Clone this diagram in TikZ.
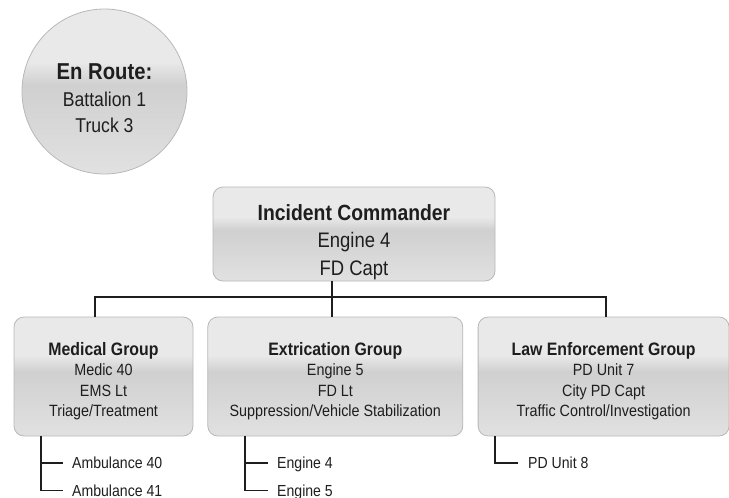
\documentclass[tikz,border=0pt]{standalone}
\usepackage{fontspec}
\setmainfont[FakeStretch=0.88]{Liberation Sans}
\usetikzlibrary{positioning, calc}
\definecolor{glossTop}{HTML}{E9E9E9}
\definecolor{glossDark}{HTML}{D0D0D0}
\definecolor{glossBot}{HTML}{E1E1E1}
\definecolor{edgeGray}{HTML}{B8B8B8}
\definecolor{inkGray}{HTML}{1E1E1E}
\pgfdeclareverticalshading{gloss}{100bp}{color(0bp)=(glossBot); color(25bp)=(glossBot); color(52bp)=(glossDark); color(59bp)=(glossTop); color(100bp)=(glossTop)}
\tikzset{
  unit/.style={draw=edgeGray, line width=0.8pt, shade, shading=gloss, rounded corners=10pt, inner sep=0pt},
  tree/.style={draw=inkGray, line width=1.7pt},
  crew/.style={anchor=west, inner sep=0pt, text height=11.5pt, text depth=0pt, text=inkGray, font=\fontsize{16}{19}\selectfont}
}

\begin{document}
\begin{tikzpicture}[x=1pt, y=-1pt]
    \useasboundingbox (0,0) rectangle (729,498);

    \node (Route) [unit, circle, minimum size=165pt, label={[align=center, text=inkGray, font=\fontsize{20}{26.5}\selectfont, yshift=-6.7pt]center:{{\fontsize{23}{26.5}\selectfont\bfseries En Route:}\\Battalion 1\\Truck 3}}] at (104.5,91.5) {};

    \node (IC) [unit, minimum width=282pt, minimum height=94pt, label={[align=center, text=inkGray, font=\fontsize{21}{27.5}\selectfont, yshift=-7.8pt]center:{{\fontsize{22}{27.5}\selectfont\bfseries Incident Commander}\\Engine 4\\FD Capt}}] at (354,234) {};

    \node (Medical) [unit, minimum width=179pt, minimum height=119pt, label={[align=center, text=inkGray, font=\fontsize{16.3}{20.5}\selectfont, yshift=-4.8pt]center:{{\fontsize{18}{20.5}\selectfont\bfseries Medical Group}\\Medic 40\\EMS Lt\\Triage/Treatment}}] at (103.5,376.5) {};
    \node (Extrication) [unit, minimum width=255pt, minimum height=119pt, right=14pt of Medical, label={[align=center, text=inkGray, font=\fontsize{16.3}{20.5}\selectfont, yshift=-4.8pt]center:{{\fontsize{18}{20.5}\selectfont\bfseries Extrication Group}\\Engine 5\\FD Lt\\Suppression/Vehicle Stabilization}}] {};
    \node (Law) [unit, minimum width=251pt, minimum height=119pt, right=14.5pt of Extrication, label={[align=center, text=inkGray, font=\fontsize{16.3}{20.5}\selectfont, yshift=-4.8pt]center:{{\fontsize{18}{20.5}\selectfont\bfseries Law Enforcement Group}\\PD Unit 7\\City PD Capt\\Traffic Control/Investigation}}] {};

    % command bar
    \coordinate (Bar) at (332,297);
    \draw [tree] (IC.south -| Bar) -- (Extrication.north -| Bar);
    \draw [tree] ([xshift=-8.5pt]Medical.north) |- (Bar) -| ([xshift=2.5pt]Law.north);

    % units under each group
    \node (Amb40) [crew] at (72,463) {Ambulance 40};
    \node (Amb41) [crew] at (72,490.5) {Ambulance 41};
    \coordinate (MedFork) at (41,0);
    \draw [tree] (Medical.south -| MedFork) |- ([xshift=-9pt]Amb41.west);
    \draw [tree] (MedFork |- Amb40.west) -- ([xshift=-9pt]Amb40.west);

    \node (Eng4) [crew] at (277,463) {Engine 4};
    \node (Eng5) [crew] at (277,490.5) {Engine 5};
    \coordinate (ExtFork) at (245,0);
    \draw [tree] (Extrication.south -| ExtFork) |- ([xshift=-9pt]Eng5.west);
    \draw [tree] (ExtFork |- Eng4.west) -- ([xshift=-9pt]Eng4.west);

    \node (PD8) [crew] at (528,463) {PD Unit 8};
    \coordinate (LawFork) at (495,0);
    \draw [tree] (Law.south -| LawFork) |- ([xshift=-10pt]PD8.west);
\end{tikzpicture}
\end{document}
